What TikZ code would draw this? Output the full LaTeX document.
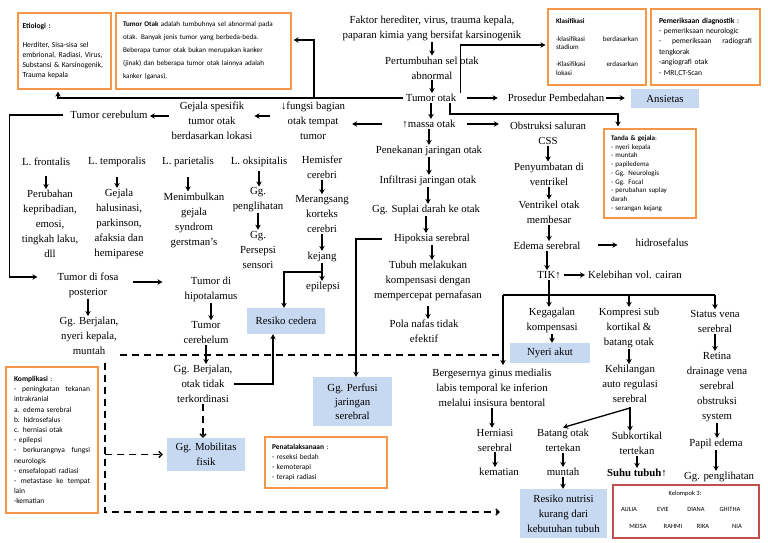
\documentclass[tikz,border=0pt]{standalone}
\usepackage{fontspec}
\setmainfont{Liberation Serif}
\newfontfamily\carl{Carlito}
\usetikzlibrary{arrows.meta,calc}
\definecolor{boxblue}{RGB}{198,217,241}
\definecolor{boxorange}{RGB}{245,150,72}
\definecolor{boxred}{RGB}{192,80,77}
\newcommand\varr[3][]{\draw[arr,#1] (#2.south) -- (#2.south |- #3.north);}
\begin{document}
\begin{tikzpicture}[x=1pt,y=-1pt,
  txt/.style={font=\fontsize{10.8}{15}\selectfont, align=center, inner sep=1pt},
  bbox/.style={fill=boxblue, font=\fontsize{10.8}{15}\selectfont, align=center, inner sep=0pt},
  obox/.style={draw=boxorange, line width=2.2pt, font=\carl\fontsize{7.4}{10}\selectfont, align=left, inner sep=0pt},
  small/.style={font=\carl\fontsize{6.5}{8}\selectfont, inner sep=0pt},
  arr/.style={line width=1.3pt, -{Stealth[length=5pt,width=5.5pt]}},
  ln/.style={line width=1.3pt},
  dsh/.style={line width=1.6pt, dash pattern=on 7pt off 5pt},
  darr/.style={dsh, -{Straight Barb[length=3pt,width=6pt,line width=1.4pt]}},
]
\useasboundingbox (0,0) rectangle (768,543);
\fill[white] (0,0) rectangle (768,543);

% ---------- info boxes ----------
\node[obox, minimum width=93pt, minimum height=76pt, text width=84pt, font=\carl\fontsize{7.6}{10}\selectfont] (etio) at (64.5,51)
 {\textbf{Etiologi :}\\[9pt]Herditer, Sisa-sisa sel\\embrional, Radiasi, Virus,\\Substansi \& Karsinogenik,\\Trauma kepala};
\node[obox, minimum width=175pt, minimum height=76pt, text width=161pt, font=\carl\fontsize{7.1}{13}\selectfont] (tumotak) at (203.5,51)
 {\textbf{Tumor Otak} adalah tumbuhnya sel abnormal pada\\otak. Banyak jenis tumor yang berbeda-beda.\\Beberapa tumor otak bukan merupakan kanker\\(jinak) dan beberapa tumor otak lainnya adalah\\kanker (ganas).};
\node[obox, minimum width=98pt, minimum height=76pt, text width=82pt, font=\carl\fontsize{7}{8.3}\selectfont] (klas) at (597,47)
 {\textbf{Klasifikasi}\\[9.5pt]-klasifikasi\hfill berdasarkan\\stadium\\[9pt]-Klasifikasi\hfill erdasarkan\\lokasi};
\node[obox, minimum width=109pt, minimum height=76pt, text width=93pt, font=\carl\fontsize{7.6}{10.4}\selectfont] (pemer) at (705.5,47)
 {\textbf{Pemeriksaan diagnostik} :\\- pemeriksaan neurologic\\-\hfill pemeriksaan\hfill radiografi\\tengkorak\\-angiografi otak\\- MRI,CT-Scan};
\node[obox, minimum width=92pt, minimum height=89pt, text width=78pt, font=\carl\fontsize{7}{8.75}\selectfont] (tanda) at (650,173.5)
 {\textbf{Tanda \& gejala}:\\- nyeri kepala\\- muntah\\- papiledema\\- Gg. Neurologis\\- Gg. Focal\\- perubahan suplay\\darah\\- serangan kejang};
\node[obox, minimum width=92pt, minimum height=146pt, text width=76pt, font=\carl\fontsize{7.5}{10.2}\selectfont] (kompl) at (52,440)
 {\textbf{Komplikasi} :\\-\hfill peningkatan\hfill tekanan\\intrakranial\\a. edema serebral\\b. hidrosefalus\\c. herniasi otak\\- epilepsi\\-\hfill berkurangnya\hfill fungsi\\neurologis\\- ensefalopati radiasi\\-\hfill metastase\hfill ke\hfill tempat\\lain\\-kematian\\[3pt]};
\node[obox, minimum width=122pt, minimum height=51pt, text width=108pt] (penat) at (326,462.5)
 {\textbf{Penatalaksanaan} :\\- reseksi bedah\\- kemoterapi\\- terapi radiasi};
\node[draw=boxred, line width=2.2pt, minimum width=146pt, minimum height=53pt, inner sep=0pt] (kel) at (686,511.5) {};
\node[small] (kt) at (685,494) {Kelompok 3:};
\node[small] (n1) at (629,509) {AULIA};
\node[small] (n2) at (663,509) {EVIE};
\node[small] (n3) at (696,509) {DIANA};
\node[small] (n4) at (730,509) {GHITHA};
\node[small] (n5) at (638,526) {MEISA};
\node[small] (n6) at (673,526) {RAHMI};
\node[small] (n7) at (703,526) {RIKA};
\node[small] (n8) at (737,526) {NIA};

% ---------- blue boxes ----------
\node[bbox, minimum width=68pt, minimum height=19pt] (ansietas) at (665,98.5) {Ansietas};
\node[bbox, minimum width=78pt, minimum height=26pt] (cedera) at (286,321) {Resiko cedera};
\node[bbox, minimum width=79pt, minimum height=49pt, font=\fontsize{10.8}{14}\selectfont] (perfusi) at (352.5,401.5) {Gg. Perfusi\\jaringan\\serebral};
\node[bbox, minimum width=78pt, minimum height=33pt] (mobil) at (206,454.5) {Gg. Mobilitas\\fisik};
\node[bbox, minimum width=80pt, minimum height=20pt] (nyeri) at (550,353) {Nyeri akut};
\node[bbox, minimum width=87pt, minimum height=49pt] (nutrisi) at (563.5,513.5) {Resiko nutrisi\\kurang dari\\kebutuhan tubuh};

% ---------- text nodes ----------
\node[txt] (faktor) at (432,28.5) {Faktor herediter, virus, trauma kepala,\\paparan kimia yang bersifat karsinogenik};
\node[txt] (pert) at (432,68) {Pertumbuhan sel otak\\abnormal};
\node[txt] (tumorotak) at (431,98) {Tumor otak};
\node[txt] (prosedur) at (556,98) {Prosedur Pembedahan};
\node[txt] (fungsi) at (313,121) {↓fungsi bagian\\otak tempat\\tumor};
\node[txt] (massa) at (429,124) {↑massa otak};
\node[txt] (gejala) at (212,121) {Gejala spesifik\\tumor otak\\berdasarkan lokasi};
\node[txt] (tumcer) at (109,115) {Tumor cerebulum};
\node[txt] (lfront) at (46,162) {L. frontalis};
\node[txt] (ltemp) at (117,162) {L. temporalis};
\node[txt] (lpar) at (188,162) {L. parietalis};
\node[txt] (loks) at (259,162) {L. oksipitalis};
\node[txt] (hemis) at (322,167) {Hemisfer\\cerebri};
\node[txt] (tfront) at (50,224) {Perubahan\\kepribadian,\\emosi,\\tingkah laku,\\dll};
\node[txt] (ttemp) at (119,224) {Gejala\\halusinasi,\\parkinson,\\afaksia dan\\hemiparese};
\node[txt] (tpar) at (194,220) {Menimbulkan\\gejala\\syndrom\\gerstman’s};
\node[txt] (tpeng) at (258,200) {Gg.\\penglihatan};
\node[txt] (tpers) at (258,249.5) {Gg.\\Persepsi\\sensori};
\node[txt] (meran) at (322,214) {Merangsang\\korteks\\cerebri};
\node[txt] (kejang) at (322,257) {kejang};
\node[txt] (epil) at (323,287) {epilepsi};
\node[txt] (penek) at (429,151) {Penekanan jaringan otak};
\node[txt] (infil) at (428,181) {Infiltrasi jaringan otak};
\node[txt] (suplai) at (426,210) {Gg. Suplai darah ke otak};
\node[txt] (hipok) at (432,239) {Hipoksia serebral};
\node[txt] (tubuh) at (428,281) {Tubuh melakukan\\kompensasi dengan\\mempercepat pernafasan};
\node[txt] (pola) at (424,331.5) {Pola nafas tidak\\efektif};
\node[txt] (obstr) at (548,133) {Obstruksi saluran\\CSS};
\node[txt] (penyum) at (549,174) {Penyumbatan di\\ventrikel};
\node[txt] (ventr) at (549,212) {Ventrikel otak\\membesar};
\node[txt] (edema) at (547,246) {Edema serebral};
\node[txt] (hidro) at (662,243) {hidrosefalus};
\node[txt] (tik) at (549,275) {TIK↑};
\node[txt] (kelebihan) at (635,275) {Kelebihan vol. cairan};
\node[txt] (kegagal) at (552,320.5) {Kegagalan\\kompensasi};
\node[txt] (kompresi) at (629,328) {Kompresi sub\\kortikal \&\\batang otak};
\node[txt] (kehil) at (630,384) {Kehilangan\\auto regulasi\\serebral};
\node[txt] (status) at (715,321.5) {Status vena\\serebral};
\node[txt] (retina) at (717,387) {Retina\\drainage vena\\serebral\\obstruksi\\system};
\node[txt] (papil) at (716,444) {Papil edema};
\node[txt] (ggpeng) at (719,477) {Gg. penglihatan};
\node[txt] (berges) at (492,388) {Bergesernya ginus medialis\\labis temporal ke inferion\\melalui insisura bentoral};
\node[txt] (hernia) at (495,440) {Herniasi\\serebral};
\node[txt] (kemat) at (499,472) {kematian};
\node[txt] (batang) at (563,440) {Batang otak\\tertekan};
\node[txt] (muntah2) at (563,472) {muntah};
\node[txt] (subkor) at (637,443.5) {Subkortikal\\tertekan};
\node[txt] (suhu) at (637,473) {\textbf{Suhu tubuh↑}};
\node[txt] (fosa) at (88,285) {Tumor di fosa\\posterior};
\node[txt] (hipo) at (211,289) {Tumor di\\hipotalamus};
\node[txt] (tumcb) at (206,332.5) {Tumor\\cerebelum};
\node[txt] (berj2) at (203,384) {Gg. Berjalan,\\otak tidak\\terkordinasi};
\node[txt] (berj1) at (89,336) {Gg. Berjalan,\\nyeri kepala,\\muntah};

% ---------- connectors ----------
\varr{faktor}{pert}
\varr{pert}{tumorotak}
\draw[arr, shorten >=1.5pt] ([xshift=3pt,yshift=5pt]tumorotak.east) |- ([yshift=2pt]klas.west);
\draw[arr, shorten <=10pt, shorten >=9pt] (tumorotak.east) -- (tumorotak.east -| prosedur.west);
\draw[arr, shorten <=1pt, shorten >=6pt] (prosedur.east) -- (prosedur.east -| ansietas.west);
\coordinate (tr) at (618,114);
\draw[arr, shorten >=1.5pt] ([xshift=19pt]tumorotak.south) |- (tr) -- (tr |- tanda.north);
\draw[arr, shorten <=2pt, shorten >=1.5pt] (tumorotak.west) -| ([xshift=-6.5pt]etio.south);
\coordinate (jt) at (314,98);
\draw[arr, shorten >=1.5pt] (jt) |- ([yshift=11pt]tumotak.east);
\varr{tumorotak}{massa}
\draw[arr, shorten <=19pt, shorten >=6pt] (massa.west) -- (massa.west -| fungsi.east);
\draw[arr, shorten <=10pt, shorten >=10pt] (massa.east) -- (massa.east -| obstr.west);
\draw[arr, shorten <=10pt, shorten >=1pt] ([yshift=5pt]fungsi.west) -- ([yshift=5pt]fungsi.west -| gejala.east);
\draw[arr, shorten <=1pt, shorten >=1pt] ([yshift=5pt]gejala.west) -- ([yshift=5pt]gejala.west -| tumcer.east);
\draw[arr, shorten <=6pt, shorten >=19pt] (tumcer.west) -- ++(-60,0) |- ([yshift=8pt]fosa.west);

% lobes
\varr[shorten <=9pt]{lfront}{tfront}
\varr[shorten <=9pt]{ltemp}{ttemp}
\varr[shorten <=9pt]{lpar}{tpar}
\varr[shorten <=3pt]{loks}{tpeng}
\varr{tpeng}{tpers}
\varr{hemis}{meran}
\varr{meran}{kejang}
\varr{kejang}{epil}
\draw[arr] ([yshift=-9pt]kejang.south) -| ([xshift=-2pt]cedera.north);

% centre column
\varr{massa}{penek}
\varr{penek}{infil}
\varr{infil}{suplai}
\varr{suplai}{hipok}
\varr{hipok}{tubuh}
\varr[shorten <=4pt]{tubuh}{pola}
\draw[arr, shorten <=11pt] (hipok.west) -| ([xshift=3.5pt]perfusi.north);

% right column
\varr{obstr}{penyum}
\varr{penyum}{ventr}
\varr{ventr}{edema}
\draw[arr, shorten <=16pt, shorten >=17pt] ([yshift=1pt]edema.east) -- ([yshift=1pt]edema.east -| hidro.west);
\varr{edema}{tik}
\draw[arr, shorten <=2pt, shorten >=2pt] (tik.east) -- (tik.east -| kelebihan.west);
\varr{tik}{kegagal}
\coordinate (busL) at (503,295);
\coordinate (busR) at (715,295);
\draw[ln] (busL) -- (busR);
\draw[arr] (busR) -- (busR |- status.north);
\draw[arr] (kompresi.north |- busL) -- (kompresi.north);
\draw[arr, shorten >=3pt] (busL) -- (busL |- berges.north);
\varr{kegagal}{nyeri}
\varr{kompresi}{kehil}
\draw[arr, shorten <=3pt] (kehil.south) -- (kehil.south |- subkor.north);
\draw[arr] ([yshift=-4pt]kehil.south) -- (batang.north);
\varr{status}{retina}
\varr{retina}{papil}
\varr{papil}{ggpeng}
\varr{berges}{hernia}
\varr{hernia}{kemat}
\varr{batang}{muntah2}
\varr{muntah2}{nutrisi}
\varr{subkor}{suhu}

% left lower
\varr{fosa}{berj1}
\draw[arr, shorten <=13pt, shorten >=21pt] ([yshift=3pt]fosa.east) -- ([yshift=3pt]fosa.east -| hipo.west);
\varr{hipo}{tumcb}
\varr{tumcb}{berj2}
\draw[arr] (berj2.east) -| ([xshift=-13pt]cedera.south);
\draw[darr] (berj2.south) -- (berj2.south |- mobil.north);

% dashed
\draw[dsh] ([yshift=-19pt]berj1.east) -- ([yshift=-19pt]berj1.east -| busL);
\coordinate (dv) at ([xshift=16pt,yshift=-7pt]berj1.south);
\draw[darr, shorten >=20pt] (dv) |- ([yshift=1.5pt]nutrisi.west);
\draw[darr, shorten >=4pt] (dv |- mobil.west) -- (mobil.west);
\end{tikzpicture}
\end{document}
